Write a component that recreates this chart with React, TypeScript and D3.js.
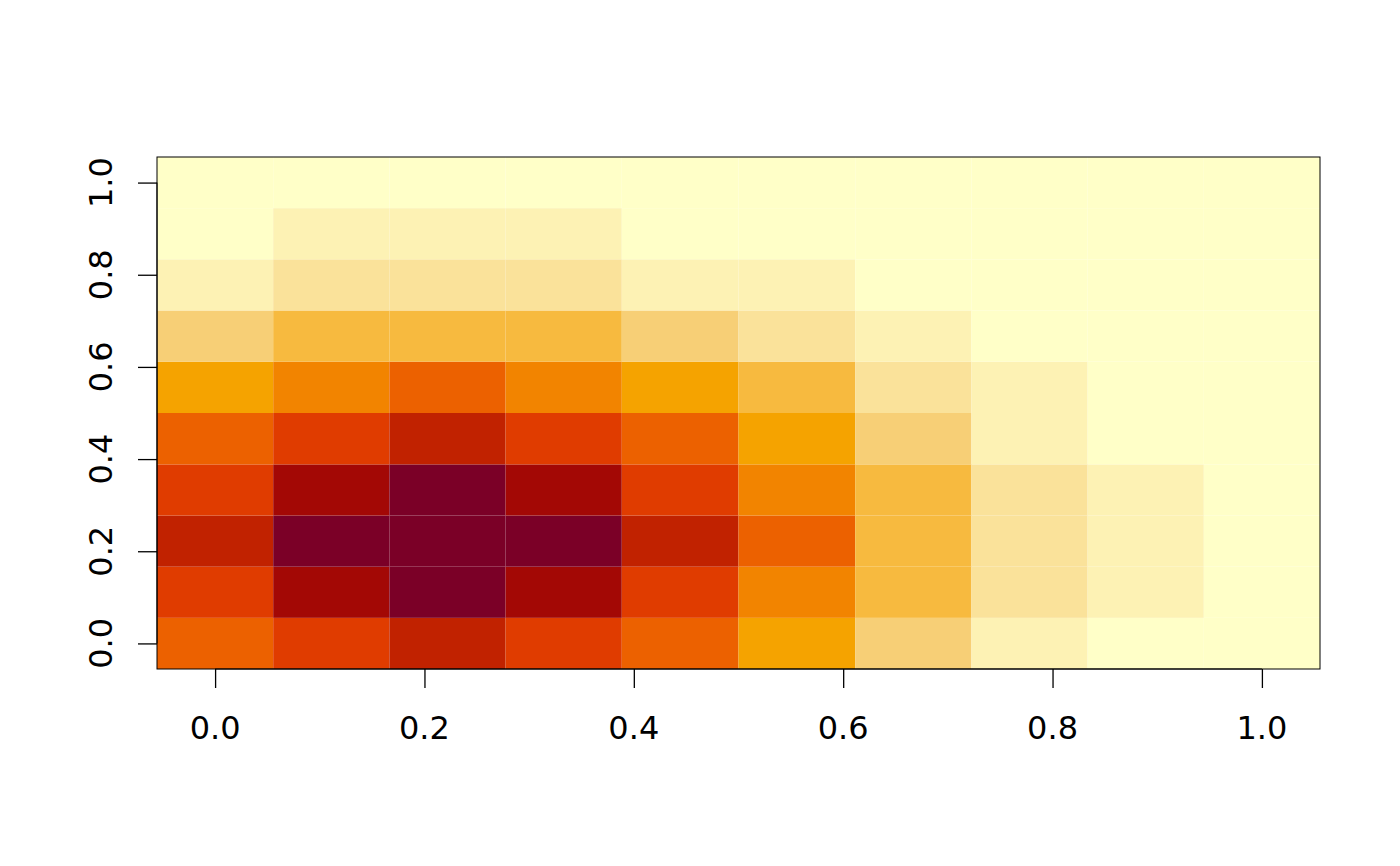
import React, { useEffect, useRef } from "react";
import * as d3 from "d3";

// grid centres (image() cells) and axis ticks
const xCenters = [0, 0.111, 0.222, 0.333, 0.444, 0.556, 0.667, 0.778, 0.889, 1];
const yCenters = [0, 0.111, 0.222, 0.333, 0.444, 0.556, 0.667, 0.778, 0.889, 1];
const tickValues = [0, 0.2, 0.4, 0.6, 0.8, 1];

// colour bin of each cell, rows from bottom (y=0) to top (y=1)
const zRows = [
  [7, 8, 9, 8, 7, 5, 3, 1, 0, 0],
  [8, 10, 11, 10, 8, 6, 4, 2, 1, 0],
  [9, 11, 11, 11, 9, 7, 4, 2, 1, 0],
  [8, 10, 11, 10, 8, 6, 4, 2, 1, 0],
  [7, 8, 9, 8, 7, 5, 3, 1, 0, 0],
  [5, 6, 7, 6, 5, 4, 2, 1, 0, 0],
  [3, 4, 4, 4, 3, 2, 1, 0, 0, 0],
  [1, 2, 2, 2, 1, 1, 0, 0, 0, 0],
  [0, 1, 1, 1, 0, 0, 0, 0, 0, 0],
  [0, 0, 0, 0, 0, 0, 0, 0, 0, 0],
];

// hcl YlOrRd, light to dark
const palette = [
  "#FFFFC8", "#FDF2B4", "#FAE29A", "#F7CF76", "#F7BA3F", "#F5A300",
  "#F28400", "#EC6100", "#E03C00", "#C12200", "#A30805", "#7B0027",
];

// cell edges like R's image(): midpoints between centres, ends padded by half a step
const edgesOf = (c: number[]) => {
  const mids = c.slice(1).map((v, i) => (v + c[i]) / 2);
  return [c[0] - (c[1] - c[0]) / 2, ...mids, c[c.length - 1] + (c[c.length - 1] - c[c.length - 2]) / 2];
};

const HeatImage = () => {
  const ref = useRef<SVGSVGElement>(null);

  useEffect(() => {
    const svg = d3.select(ref.current);
    svg.selectAll("*").remove();

    const left = 157, right = 1320, top = 157, bottom = 669;
    const xEdges = edgesOf(xCenters);
    const yEdges = edgesOf(yCenters);

    const x = d3.scaleLinear().domain([xEdges[0], xEdges[xEdges.length - 1]]).range([left, right]);
    const y = d3.scaleLinear().domain([yEdges[0], yEdges[yEdges.length - 1]]).range([bottom, top]);
    const color = d3.scaleOrdinal<number, string>().domain(d3.range(palette.length)).range(palette);

    const cells: { xi: number; yi: number; z: number }[] = [];
    zRows.forEach((row, yi) => row.forEach((z, xi) => cells.push({ xi, yi, z })));

    svg
      .append("g")
      .selectAll("rect")
      .data(cells)
      .enter()
      .append("rect")
      .attr("x", (d) => x(xEdges[d.xi]))
      .attr("y", (d) => y(yEdges[d.yi + 1]))
      .attr("width", (d) => x(xEdges[d.xi + 1]) - x(xEdges[d.xi]))
      .attr("height", (d) => y(yEdges[d.yi]) - y(yEdges[d.yi + 1]))
      .attr("fill", (d) => color(d.z));

    // box
    svg
      .append("rect")
      .attr("x", left)
      .attr("y", top)
      .attr("width", right - left)
      .attr("height", bottom - top)
      .attr("fill", "none")
      .attr("stroke", "#000")
      .attr("stroke-width", 1);

    // x axis
    const fmt = d3.format(".1f");
    const xAxis = svg
      .append("g")
      .attr("transform", `translate(0,${bottom})`)
      .call(d3.axisBottom(x).tickValues(tickValues).tickSize(19).tickSizeOuter(0).tickFormat(() => ""));
    xAxis.select(".domain").attr("d", `M${x(0)},0H${x(1)}`);
    xAxis.selectAll("line").attr("stroke-width", 1.3);

    svg
      .append("g")
      .selectAll("text")
      .data(tickValues)
      .enter()
      .append("text")
      .attr("x", (d) => x(d))
      .attr("y", 739)
      .attr("text-anchor", "middle")
      .style("font-family", "DejaVu Sans")
      .style("font-size", "32px")
      .text((d) => fmt(d));

    // y axis
    const yAxis = svg
      .append("g")
      .attr("transform", `translate(${left},0)`)
      .call(d3.axisLeft(y).tickValues(tickValues).tickSize(19).tickSizeOuter(0).tickFormat(() => ""));
    yAxis.select(".domain").attr("d", `M0,${y(0)}V${y(1)}`);
    yAxis.selectAll("line").attr("stroke-width", 1.3);

    svg
      .append("g")
      .selectAll("text")
      .data(tickValues)
      .enter()
      .append("text")
      .attr("transform", (d) => `translate(112,${y(d)}) rotate(-90)`)
      .attr("text-anchor", "middle")
      .style("font-family", "DejaVu Sans")
      .style("font-size", "32px")
      .text((d) => fmt(d));
  }, []);

  return (
    <svg
      ref={ref}
      width={1400}
      height={866}
      style={{ position: "absolute", left: 0, top: 0, background: "#fff" }}
    />
  );
};

export default function App() {
  return <HeatImage />;
}
